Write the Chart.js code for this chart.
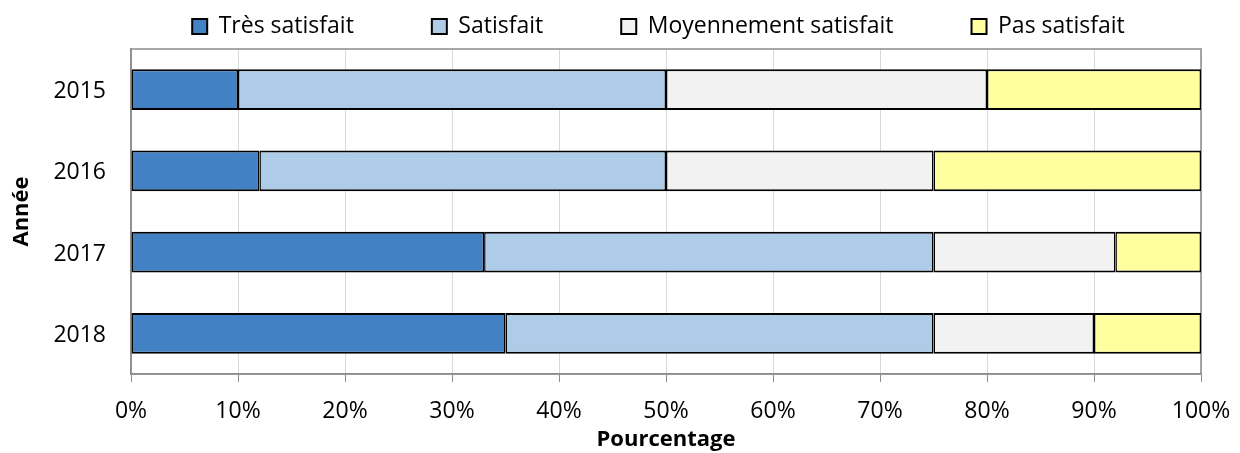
<!DOCTYPE html>
<html><head><meta charset="utf-8">
<script src="https://cdn.jsdelivr.net/npm/chart.js@4"></script>
<style>html,body{margin:0;padding:0;background:#fff}#wrap{width:1240px;height:453px}</style>
</head><body><div id="wrap"><canvas id="c" width="1240" height="453"></canvas></div>
<script>
const categories = ['2015', '2016', '2017', '2018'];
const tresSatisfait = [10, 12, 33, 35];
const satisfait = [40, 38, 42, 40];
const moyennement = [30, 25, 17, 15];
const pasSatisfait = [20, 25, 8, 10];
const seriesNames = ['Très satisfait', 'Satisfait', 'Moyennement satisfait', 'Pas satisfait'];
const colors = ['#4281C3', '#AECBE7', '#F2F2F2', '#FFFFA0'];

const FONT = "'Open Sans', sans-serif";
const LEG_PAD = 78;
const frame = {
  id: 'frame',
  beforeInit(chart) {
    const fit = chart.legend.fit;
    chart.legend.fit = function () { fit.call(this); this.height = 49; };
  },
  afterLayout(chart) {
    const lg = chart.legend;
    lg.top = 15 - LEG_PAD;
    lg.left = 77;
    lg.right = 1240;
  },
  beforeDatasetsDraw(chart) {
    const a = chart.chartArea, ctx = chart.ctx;
    ctx.save();
    ctx.strokeStyle = '#8c8c8c';
    ctx.lineWidth = 1.5;
    ctx.strokeRect(a.left, a.top, a.right - a.left, a.bottom - a.top);
    ctx.restore();
  }
};

const datasets = [tresSatisfait, satisfait, moyennement, pasSatisfait].map((d, i) => ({
  label: seriesNames[i], data: d, backgroundColor: colors[i],
  borderColor: '#000', borderWidth: { top: 2, bottom: 2, left: 1.5, right: 1.5 }, borderSkipped: false,
  barPercentage: 0.5, categoryPercentage: 1
}));

new Chart(document.getElementById('c'), {
  type: 'bar',
  data: { labels: categories, datasets },
  plugins: [frame],
  options: {
    indexAxis: 'y', responsive: false, animation: false,
    layout: { padding: { left: 0, right: 39, top: 0, bottom: 0 } },
    plugins: {
      legend: {
        position: 'top',
        labels: {
          font: { family: FONT, size: 23 }, color: '#000', boxWidth: 15, boxHeight: 15, padding: LEG_PAD,
          generateLabels(chart) {
            return Chart.defaults.plugins.legend.labels.generateLabels(chart).map(l => Object.assign(l, { lineWidth: 2, strokeStyle: '#000' }));
          }
        },
      },
      tooltip: { enabled: false }
    },
    scales: {
      x: {
        stacked: true, min: 0, max: 100,
        afterFit(s) { s.height = 79; s.paddingLeft = 0; s.paddingRight = 0; },
        ticks: { stepSize: 10, callback: v => v + '%', font: { family: FONT, size: 23 }, color: '#000', padding: 16, maxRotation: 0 },
        grid: { color: '#d9d9d9', lineWidth: 1, tickColor: '#8c8c8c', tickLength: 8 },
        border: { color: '#8c8c8c', width: 1.5 },
        title: { display: true, text: 'Pourcentage', font: { family: FONT, size: 22, weight: 'bold' }, color: '#000', padding: { top: 0, bottom: 0 } }
      },
      y: {
        stacked: true,
        afterFit(s) { s.width = 131; },
        ticks: { font: { family: FONT, size: 23 }, color: '#000', padding: 25, labelOffset: 2 },
        grid: { display: false, drawTicks: false },
        border: { color: '#8c8c8c', width: 1.5 },
        title: { display: true, text: 'Année', font: { family: FONT, size: 22, weight: 'bold' }, color: '#000', padding: { top: 9, bottom: 0 } }
      }
    }
  }
});
</script></body></html>
